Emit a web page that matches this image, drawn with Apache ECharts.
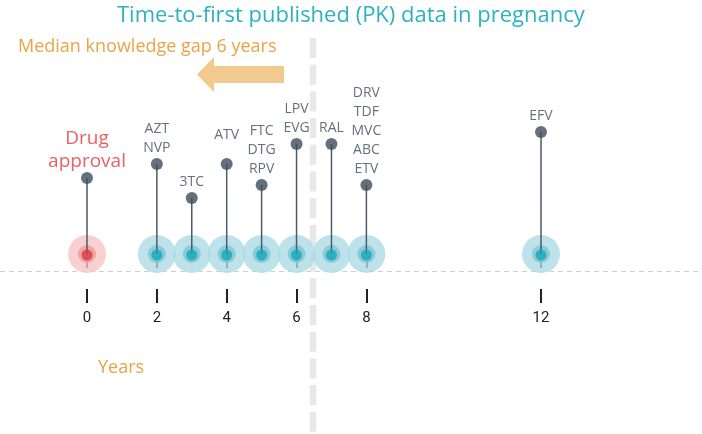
<!DOCTYPE html>
<html>
<head>
<meta charset="utf-8">
<script src="https://cdn.jsdelivr.net/npm/echarts@6/dist/echarts.min.js"></script>
<style>
  html, body { margin: 0; padding: 0; background: #fff; }
  #chart { width: 702px; height: 434px; }
</style>
</head>
<body>
<div id="chart"></div>
<script>
// axis slots in years; the blank slot leaves the extra room before year 12
const yearSlots = ["0", "1", "2", "3", "4", "5", "6", "7", "8", "9", "10", "11", "", "12"];
const tickYears = ["0", "2", "4", "6", "8", "12"];
// years to first PK data, one entry per stem
const eventYears = ["0", "2", "3", "4", "5", "6", "7", "8", "12"];
const eventLabels = [
  "Drug\napproval",
  "AZT\nNVP",
  "3TC",
  "ATV",
  "FTC\nDTG\nRPV",
  "LPV\nEVG",
  "RAL",
  "DRV\nTDF\nMVC\nABC\nETV",
  "EFV"
];
// stem heights (arbitrary units, only for the lollipop layout)
const stemHeights = [76, 90, 56, 90, 69, 110, 110, 69, 122];

const TEAL = "#2cb2c3";
const ORANGE = "#e9a445";
const FONT = "'Open Sans', sans-serif";

const isApproval = (p) => p.dataIndex === 0;
const onTick = (i, v) => tickYears.includes(v);

const topDots = eventYears.map((y, i) => {
  const item = { value: [y, stemHeights[i]] };
  if (i === 0) {
    item.label = { color: "#e6363b", fontSize: 19, lineHeight: 23, distance: -1 };
  }
  if (eventLabels[i] === "ATV") {
    item.label = { distance: 13 };
  }
  return item;
});

// each year tick is two short dashes: one from each of two stacked axes
const tickAxis = (offset, margin, labelColor) => ({
  type: "category",
  data: yearSlots,
  boundaryGap: false,
  position: "bottom",
  offset: offset,
  axisLine: { show: false },
  axisTick: {
    show: true,
    interval: onTick,
    length: 14,
    lineStyle: { color: "#222", width: 2 }
  },
  axisLabel: {
    interval: onTick,
    margin: margin,
    color: labelColor,
    fontSize: 15,
    fontFamily: "Roboto, sans-serif"
  },
  splitLine: { show: false }
});

const options = {
  backgroundColor: "#fff",
  animation: false,
  title: {
    text: "Time-to-first published (PK) data in pregnancy",
    left: 112,
    top: 0,
    textStyle: { color: TEAL, fontSize: 22, fontWeight: "normal", fontFamily: FONT }
  },
  grid: { left: 87, right: 161, top: 71, bottom: 163 },
  xAxis: [tickAxis(0, 40, "rgba(0,0,0,0)"), tickAxis(18, 22, "#222")],
  yAxis: { type: "value", min: -17, max: 183, show: false },
  graphic: [
    {
      type: "line",
      z: 0,
      shape: { x1: 313, y1: 38, x2: 313, y2: 434 },
      style: { stroke: "#e8e8e8", lineWidth: 6.5, lineDash: [20, 6.7] }
    },
    {
      type: "line",
      z: 0,
      shape: { x1: 0, y1: 271.5, x2: 702, y2: 271.5 },
      style: { stroke: "#cfcfcf", lineWidth: 1, lineDash: [5, 4] }
    },
    {
      type: "text",
      left: 18,
      top: 38,
      style: { text: "Median knowledge gap 6 years", fill: ORANGE, font: "18px " + FONT }
    },
    {
      type: "polygon",
      shape: {
        points: [[197, 74.5], [214, 57], [214, 66], [284, 66], [284, 83], [214, 83], [214, 92]]
      },
      style: { fill: "#f2c98f" }
    },
    {
      type: "text",
      left: 98,
      top: 359,
      style: { text: "Years", fill: ORANGE, font: "18px " + FONT }
    }
  ],
  series: [
    {
      type: "scatter",
      name: "halo",
      z: 2,
      silent: true,
      symbolSize: 38,
      data: eventYears.map((y) => [y, 0]),
      itemStyle: { color: (p) => (isApproval(p) ? "#f6c4c4" : "#acdbe5") }
    },
    {
      type: "scatter",
      name: "ring",
      z: 3,
      silent: true,
      symbolSize: 18,
      data: eventYears.map((y) => [y, 0]),
      itemStyle: { color: (p) => (isApproval(p) ? "#ee9a9a" : "#7ec6d3") }
    },
    {
      type: "bar",
      name: "stem",
      z: 4,
      silent: true,
      barWidth: 1.5,
      data: eventYears.map((y, i) => [y, stemHeights[i]]),
      itemStyle: { color: "#4a5a6b" }
    },
    {
      type: "scatter",
      name: "core",
      z: 5,
      silent: true,
      symbolSize: 11,
      symbolOffset: [0, 1],
      data: eventYears.map((y) => [y, 0]),
      itemStyle: { color: (p) => (isApproval(p) ? "#d63a42" : "#16a8bb") }
    },
    {
      type: "scatter",
      name: "drugs",
      z: 6,
      silent: true,
      symbolSize: 12,
      data: topDots,
      itemStyle: { color: "#3d4c5d" },
      label: {
        show: true,
        position: "top",
        distance: 0,
        formatter: (p) => eventLabels[p.dataIndex],
        color: "#3f4c5b",
        fontSize: 14,
        lineHeight: 19,
        fontFamily: FONT
      }
    }
  ]
};

const myChart = echarts.init(document.getElementById("chart"));
myChart.setOption(options);
</script>
</body>
</html>
